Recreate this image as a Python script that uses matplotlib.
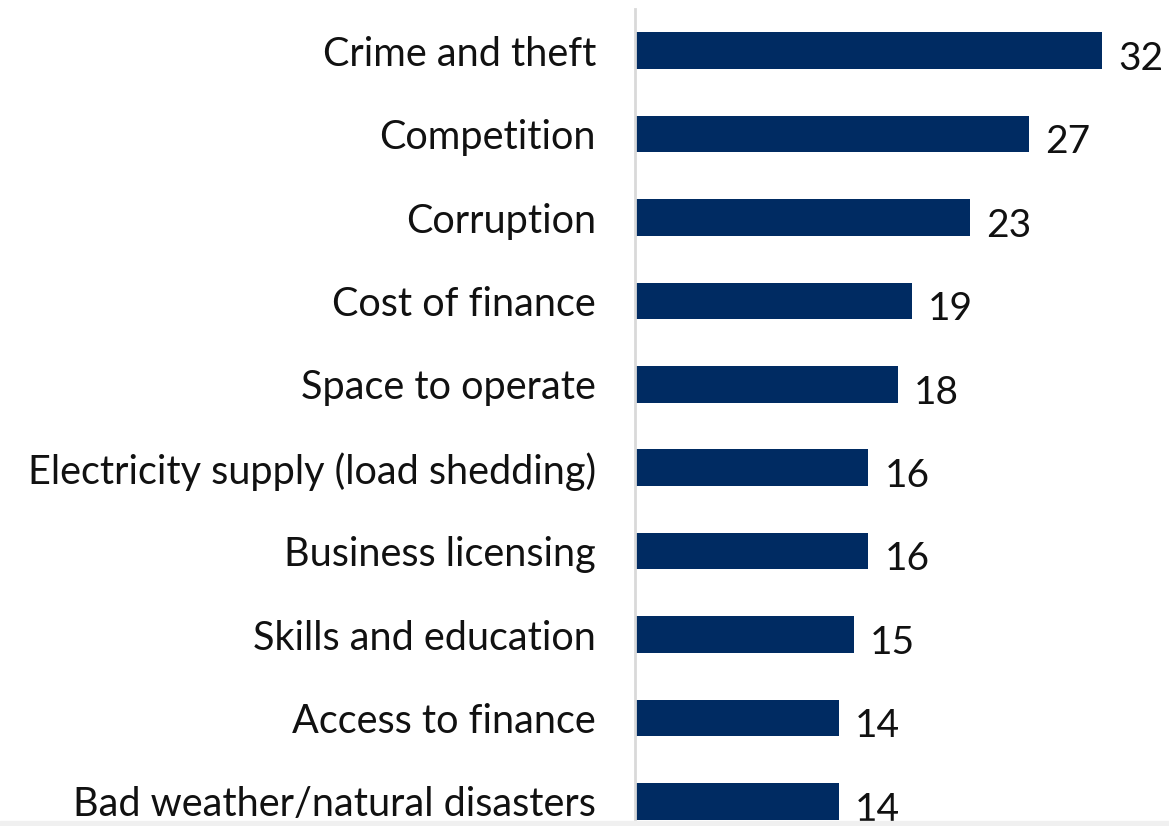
import matplotlib.pyplot as plt
from matplotlib.patches import Rectangle

categories = [
    'Crime and theft',
    'Competition',
    'Corruption',
    'Cost of finance',
    'Space to operate',
    'Electricity supply (load shedding)',
    'Business licensing',
    'Skills and education',
    'Access to finance',
    'Bad weather/natural disasters',
]
values = [32, 27, 23, 19, 18, 16, 16, 15, 14, 14]

plt.rcParams['font.family'] = ['Lato', 'DejaVu Sans']

fig = plt.figure(figsize=(11.69, 8.26), dpi=100)
ax = fig.add_axes([0.543, -0.0206, 0.457, 1.0097])

ypos = list(range(len(categories)))
ax.barh(ypos, values, height=0.44, color='#002B62')

for y, v in zip(ypos, values):
    ax.text(v + 1.1, y + 0.1, str(v), va='center', ha='left',
            fontsize=28, color='#111111')

ax.set_ylim(len(categories) - 0.5, -0.5)
ax.set_xlim(0, 36.6)
ax.set_yticks(ypos)
ax.set_yticklabels(categories, fontsize=28.5, color='#111111')
ax.tick_params(axis='y', length=0, pad=28)
ax.set_xticks([])

for side in ['top', 'right', 'bottom']:
    ax.spines[side].set_visible(False)
ax.spines['left'].set_color('#D9D9D9')
ax.spines['left'].set_linewidth(2)

# thin grey strip along the bottom edge
fig.add_artist(Rectangle((0, 0), 1, 5 / 826, transform=fig.transFigure,
                         color='#F0F0F0', zorder=5))

fig.savefig('out.png', dpi=100)
